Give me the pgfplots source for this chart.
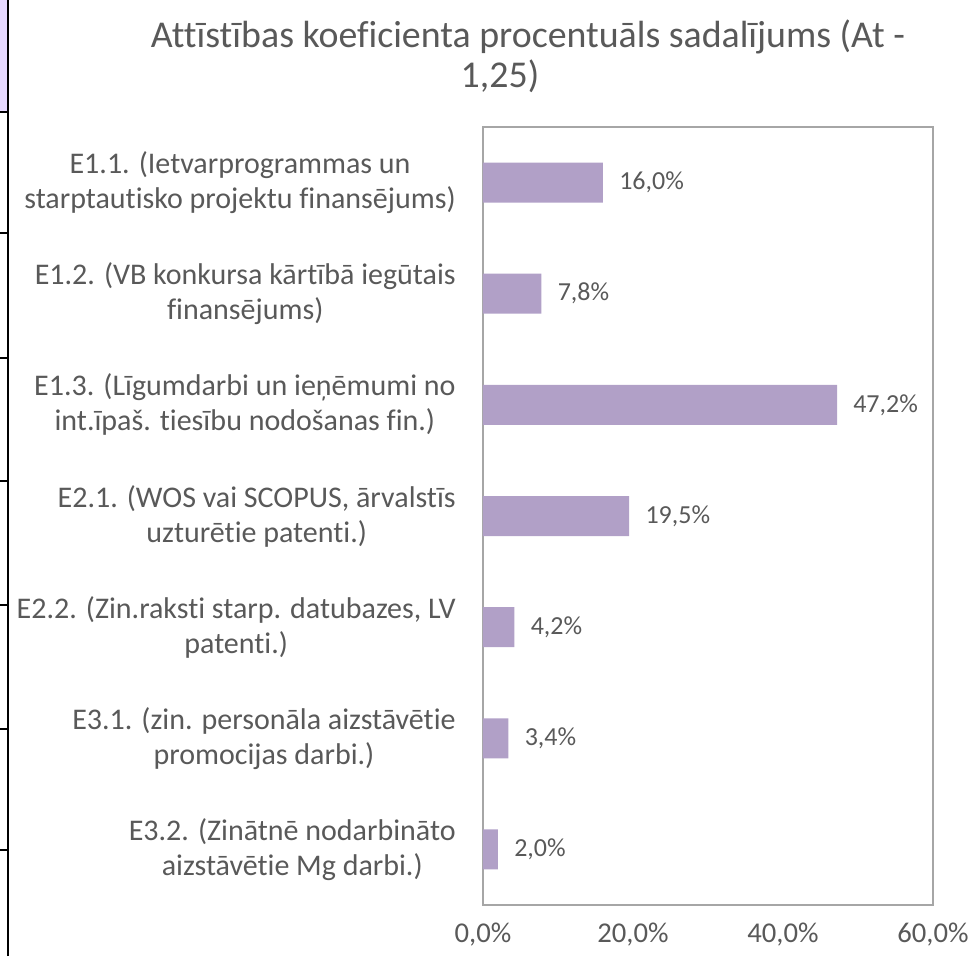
\documentclass[border=0pt]{standalone}
\usepackage{fontspec}
\setmainfont{Carlito}[Ligatures=NoCommon]
\usepackage{pgfplots}
\pgfplotsset{compat=1.18}
\definecolor{barfill}{HTML}{B1A0C7}
\definecolor{txt}{HTML}{595959}
\definecolor{frame}{HTML}{A6A6A6}
\definecolor{cell}{HTML}{E6D9FF}

\begin{document}
\begin{tikzpicture}
% 1 px of the reference = 0.75pt, axis lower left at px (483,905)
\path[use as bounding box] (-362.25pt,-38.25pt) rectangle (367.5pt,678.75pt);
% cropped table edge on the left
\fill[cell] (-362.25pt,594.75pt) rectangle (-356.25pt,678.75pt);
\draw[black, line width=1.5pt] (-356.25pt,-38.25pt) -- (-356.25pt,678.75pt);
\foreach \yy in {594.75,504,410.25,318,225,132,41.25}
  \draw[black, line width=0.8pt] (-362.25pt,\yy pt) -- (-356.25pt,\yy pt);
\begin{axis}[
    at={(0pt,0pt)}, anchor=south west,
    scale only axis,
    width=337.5pt, height=583.5pt,
    xbar, bar width=30pt,
    xmin=0, xmax=60,
    ymin=0.5, ymax=7.5,
    y dir=reverse,
    axis line style={frame, line width=0.9pt},
    /pgf/number format/assume math mode=true,
    xtick={0,20,40,60},
    xticklabels={{0,0\%}, {20,0\%}, {40,0\%}, {60,0\%}},
    xticklabel style={font=\fontsize{21.5}{26}\selectfont, text=txt, anchor=base, inner sep=0pt, yshift=-28pt},
    ytick={1,...,7},
    yticklabels={
      {E1.1. (Ietvarprogrammas un\\starptautisko projektu finansējums)},
      {E1.2. (VB konkursa kārtībā iegūtais\\finansējums)},
      {E1.3. (Līgumdarbi un ieņēmumi no\\int.īpaš. tiesību nodošanas fin.)},
      {E2.1. (WOS vai SCOPUS, ārvalstīs\\uzturētie patenti.)},
      {E2.2. (Zin.raksti starp. datubazes, LV\\patenti.)},
      {E3.1. (zin. personāla aizstāvētie\\promocijas darbi.)},
      {E3.2. (Zinātnē nodarbināto\\aizstāvētie Mg darbi.)}},
    yticklabel style={font=\fontsize{22.5}{26.25}\selectfont, text=txt, align=center, inner sep=0pt, xshift=-16pt},
    tick style={draw=none},
    nodes near coords={\pgfmathprintnumber[fixed, fixed zerofill, precision=1, use comma]{\pgfplotspointmeta}\%},
    point meta=x,
    every node near coord/.append style={font=\fontsize{19.5}{23}\selectfont, text=txt, anchor=west, inner sep=0pt, xshift=12pt},
]
\addplot[fill=barfill, draw=none] coordinates {
  (16.0,1) (7.8,2) (47.2,3) (19.5,4) (4.2,5) (3.4,6) (2.0,7)
};
\end{axis}
\node[font=\fontsize{28.4}{34}\selectfont, text=txt, anchor=base] at (33.75pt,642.75pt) {Attīstības koeficienta procentuāls sadalījums (At -};
\node[font=\fontsize{28.4}{34}\selectfont, text=txt, anchor=base] at (12.75pt,612.75pt) {1,25)};
\end{tikzpicture}
\end{document}
